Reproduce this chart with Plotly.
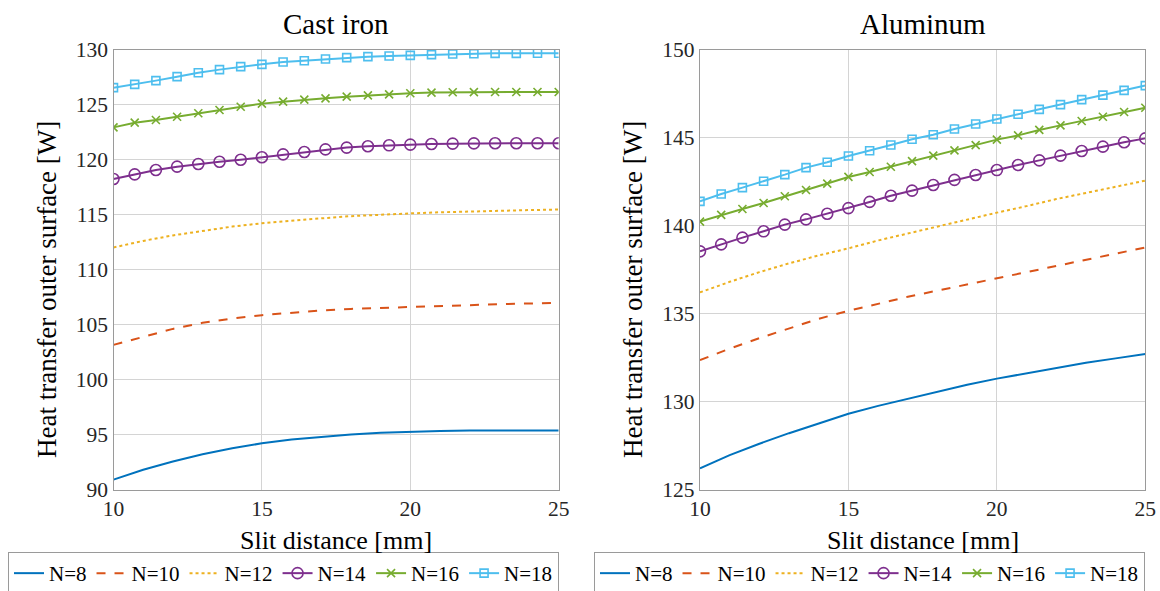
import plotly.graph_objects as go

# ---------------- data ----------------
x_line = [10, 11, 12, 13, 14, 15, 16, 17, 18, 19, 20, 21, 22, 23, 24, 25]
x_mark = [10 + i * 15 / 21 for i in range(22)]

# Cast iron
ci_n8 = [90.9, 91.8, 92.55, 93.2, 93.75, 94.2, 94.55, 94.8, 95.0, 95.15, 95.25, 95.32, 95.37, 95.39, 95.39, 95.37]
ci_n10 = [103.15, 103.85, 104.6, 105.15, 105.55, 105.85, 106.07, 106.28, 106.42, 106.52, 106.6, 106.68, 106.76, 106.84, 106.92, 106.98]
ci_n12 = [112.0, 112.6, 113.1, 113.5, 113.9, 114.2, 114.45, 114.65, 114.85, 115.0, 115.1, 115.2, 115.28, 115.34, 115.4, 115.45]
ci_n14 = [118.23, 118.65, 119.05, 119.35, 119.59, 119.8, 119.98, 120.2, 120.47, 120.68, 120.92, 121.08, 121.2, 121.29,
          121.35, 121.41, 121.44, 121.47, 121.48, 121.48, 121.48, 121.48]
ci_n16 = [122.92, 123.35, 123.59, 123.89, 124.2, 124.5, 124.8, 125.08, 125.26, 125.44, 125.56, 125.71, 125.83, 125.92,
          126.02, 126.08, 126.11, 126.12, 126.14, 126.14, 126.14, 126.14]
ci_n18 = [126.53, 126.83, 127.17, 127.53, 127.89, 128.17, 128.44, 128.65, 128.86, 128.98, 129.14, 129.26, 129.35, 129.41,
          129.47, 129.53, 129.59, 129.62, 129.65, 129.65, 129.66, 129.66]

# Aluminum
al_n8 = [126.2, 126.95, 127.6, 128.2, 128.75, 129.3, 129.75, 130.15, 130.55, 130.95, 131.3, 131.6, 131.9, 132.2, 132.45, 132.7]
al_n10 = [132.35, 133.0, 133.6, 134.15, 134.7, 135.15, 135.55, 135.95, 136.3, 136.65, 137.0, 137.35, 137.7, 138.05, 138.4, 138.75]
al_n12 = [136.2, 136.8, 137.35, 137.85, 138.3, 138.7, 139.15, 139.55, 139.95, 140.35, 140.73, 141.1, 141.5, 141.85, 142.2, 142.55]
al_n14 = [138.53, 138.93, 139.31, 139.67, 140.05, 140.35, 140.67, 140.99, 141.34, 141.69, 141.98, 142.3, 142.59, 142.87,
          143.15, 143.44, 143.7, 143.97, 144.23, 144.48, 144.73, 144.95]
al_n16 = [140.22, 140.6, 140.94, 141.28, 141.66, 142.02, 142.38, 142.76, 143.04, 143.34, 143.66, 143.97, 144.27, 144.57,
          144.88, 145.12, 145.43, 145.69, 145.94, 146.18, 146.45, 146.69]
al_n18 = [141.37, 141.79, 142.15, 142.51, 142.89, 143.29, 143.59, 143.95, 144.25, 144.57, 144.9, 145.16, 145.48, 145.77,
          146.05, 146.32, 146.6, 146.87, 147.15, 147.41, 147.68, 147.95]

names = ["N=8", "N=10", "N=12", "N=14", "N=16", "N=18"]
titles = ["Cast iron", "Aluminum"]
x_label = "Slit distance [mm]"
y_label = "Heat transfer outer surface [W]"
x_ticks = [10, 15, 20, 25]
ci_ticks = [90, 95, 100, 105, 110, 115, 120, 125, 130]
al_ticks = [125, 130, 135, 140, 145, 150]

# ---------------- style ----------------
FONT = "Liberation Serif, Times New Roman, serif"
colors = ["#0072BD", "#D95319", "#EDB120", "#7E2F8E", "#77AC30", "#4DBEEE"]
dashes = ["solid", "dash", "dot", "solid", "solid", "solid"]
symbols = [None, None, None, "circle-open", "x-thin-open", "square-open"]
msizes = [0, 0, 0, 11, 8, 8]

fig = go.Figure()

panels = [
    ([ci_n8, ci_n10, ci_n12], [ci_n14, ci_n16, ci_n18], "x", "y", "legend"),
    ([al_n8, al_n10, al_n12], [al_n14, al_n16, al_n18], "x2", "y2", "legend2"),
]
for lines, marks, xa, ya, lg in panels:
    series = [(x_line, v) for v in lines] + [(x_mark, v) for v in marks]
    for i, (xs, ys) in enumerate(series):
        kw = dict(x=xs, y=ys, name=names[i], xaxis=xa, yaxis=ya, legend=lg,
                  line=dict(color=colors[i], width=2, dash=dashes[i]))
        if symbols[i]:
            kw["mode"] = "lines+markers"
            kw["marker"] = dict(symbol=symbols[i], size=msizes[i], color=colors[i],
                                line=dict(color=colors[i], width=1.6))
        else:
            kw["mode"] = "lines"
        fig.add_trace(go.Scatter(**kw))

axis_common = dict(showline=True, linecolor="#9a9a9a", linewidth=1.2, mirror=True, automargin=False,
                   showgrid=True, gridcolor="#d4d4d4", gridwidth=1, zeroline=False,
                   ticks="", tickfont=dict(family=FONT, size=21.5, color="#262626"))

L1, R1, L2, R2 = 113.5, 558.7, 700.0, 1145.3
TOP, BOT = 49.5, 489.5
ydom = [1 - BOT / 591, 1 - TOP / 591]
leg = dict(orientation="h", xanchor="left", y=1 - 552 / 591, yanchor="top",
           bordercolor="#9a9a9a", borderwidth=1, bgcolor="white",
           font=dict(family=FONT, size=21, color="black"), itemwidth=30, tracegroupgap=0)


def ann(text, xpx, ypx, size, angle=0):
    return dict(text=text, x=xpx / 1160, y=1 - ypx / 591, xref="paper", yref="paper", showarrow=False,
                textangle=angle, font=dict(family=FONT, size=size, color="black"),
                xanchor="center", yanchor="middle")


fig.update_layout(
    width=1160, height=591, autosize=False,
    paper_bgcolor="white", plot_bgcolor="white",
    margin=dict(l=0, r=0, t=0, b=0, pad=0, autoexpand=False),
    font=dict(family=FONT, size=22, color="black"),
    showlegend=True,
    xaxis=dict(domain=[L1 / 1160, R1 / 1160], range=[10, 25], tickvals=x_ticks, anchor="y", **axis_common),
    yaxis=dict(domain=ydom, range=[90, 130], tickvals=ci_ticks, anchor="x", **axis_common),
    xaxis2=dict(domain=[L2 / 1160, R2 / 1160], range=[10, 25], tickvals=x_ticks, anchor="y2", **axis_common),
    yaxis2=dict(domain=ydom, range=[125, 150], tickvals=al_ticks, anchor="x2", **axis_common),
    legend=dict(x=8 / 1160, **leg),
    legend2=dict(x=594 / 1160, **leg),
    annotations=[
        ann(titles[0], (L1 + R1) / 2, 24, 29),
        ann(titles[1], (L2 + R2) / 2, 24, 29),
        ann(x_label, (L1 + R1) / 2, 540, 26),
        ann(x_label, (L2 + R2) / 2, 540, 26),
        ann(y_label, 47, 290, 27, -90),
        ann(y_label, 633, 290, 27, -90),
    ],
)

fig.write_html("out.html", config={"displayModeBar": False},
               post_script="document.body.style.margin='0px';")
